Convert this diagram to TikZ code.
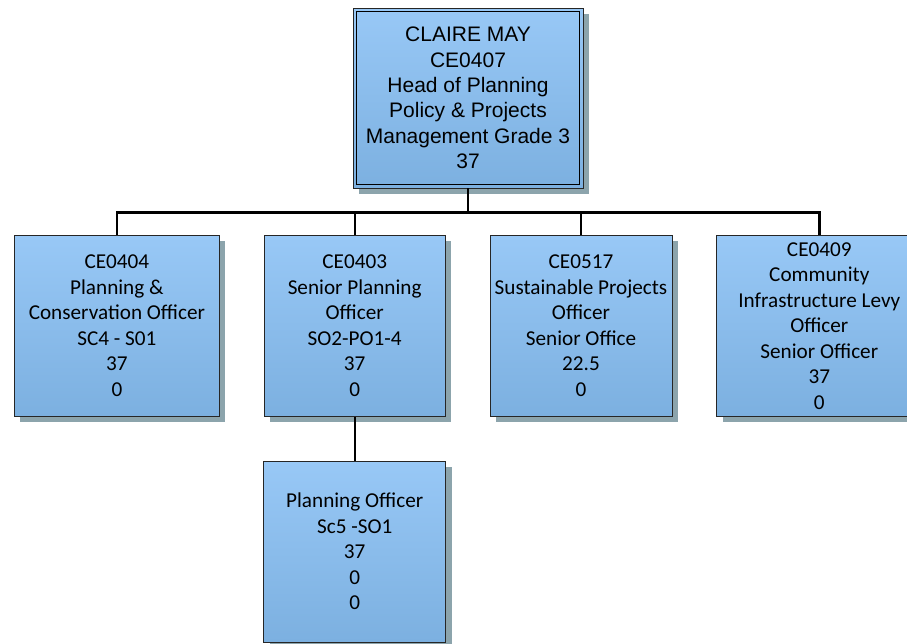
\documentclass[tikz,border=0pt]{standalone}
\usepackage{fontspec}
\setmainfont{Carlito}
\newfontfamily\arialfont{Liberation Sans}
\usetikzlibrary{positioning, shadows, calc}
\definecolor{boxtop}{RGB}{152,200,246}
\definecolor{boxbot}{RGB}{124,176,224}
\definecolor{shadowgray}{RGB}{140,164,172}
\tikzset{
    post/.style={draw=black!85, line width=0.8pt, top color=boxtop, bottom color=boxbot,
      drop shadow={shadow xshift=6pt, shadow yshift=-6pt, fill=shadowgray, opacity=1},
      align=center, minimum height=181pt, inner sep=0pt,
      font=\fontsize{21.2}{25.5}\selectfont},
    head/.style={post, minimum width=230pt, minimum height=180pt,
      font=\arialfont\fontsize{21}{25.3}\selectfont},
    link/.style={line width=2.4pt},
}

\begin{document}
\begin{tikzpicture}[x=1pt, y=1pt]
    \tikzset{
      node distance=44pt
    }
    \path[use as bounding box, clip] (0,0) rectangle (907,-643);

    \node[head] (h0) at (468,-98) {CLAIRE MAY\\CE0407\\Head of Planning\\Policy \& Projects\\Management Grade 3\\37};
    \draw[line width=0.8pt] ($(h0.north west)+(4,-4)$) rectangle ($(h0.south east)+(-4,4)$);

    \node[post, minimum width=205pt, anchor=north west] (p1) at (14,-235) {CE0404\\Planning \&\\Conservation Officer\\SC4 - S01\\37\\0};
    \node[post, minimum width=181pt, right=of p1] (p2) {CE0403\\Senior Planning\\Officer\\SO2-PO1-4\\37\\0};
    \node[post, minimum width=182pt, right=of p2] (p3) {CE0517\\Sustainable Projects\\Officer\\Senior Office\\22.5\\0};
    \node[post, minimum width=205pt, right=of p3] (p4) {CE0409\\Community\\Infrastructure Levy\\Officer\\Senior Officer\\37\\0};

    \node[post, minimum width=182pt, below=of p2] (q1) {Planning Officer\\Sc5 -SO1\\37\\0\\0};

    \coordinate (bus) at ($(h0.south)+(0,-24)$);
    \draw[link] (h0.south) -- (bus);
    \draw[link] (bus) -| (p1.north);
    \draw[link] (bus) -| (p2.north);
    \draw[link] (bus) -| (p3.north);
    \draw[link] (bus) -| (p4.north);
    \draw[link] (p2.south) -- (q1.north);
\end{tikzpicture}
\end{document}
